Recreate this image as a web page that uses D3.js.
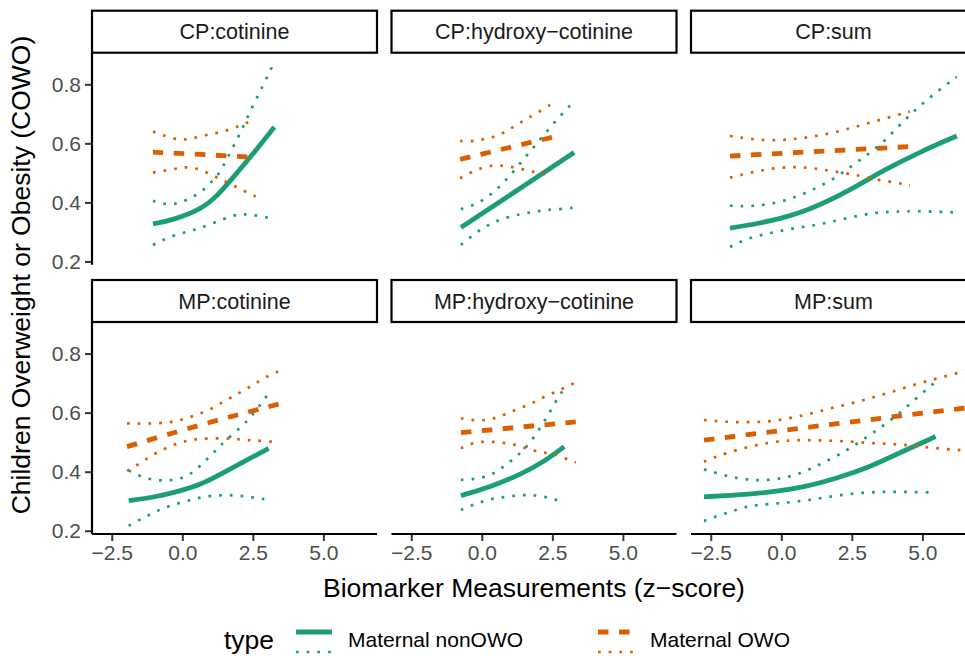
<!DOCTYPE html>
<html>
<head>
<meta charset="utf-8">
<script src="https://cdn.jsdelivr.net/npm/d3@7"></script>
<style>
  body { margin: 0; background: #fff; }
  svg { display: block; font-family: "Liberation Sans", Arial, Helvetica, sans-serif; }
</style>
</head>
<body>
<div id="chart"></div>
<script>
// facet labels, legend and ticks
const panels = ["CP:cotinine", "CP:hydroxy\u2212cotinine", "CP:sum", "MP:cotinine", "MP:hydroxy\u2212cotinine", "MP:sum"];
const types = ["Maternal nonOWO", "Maternal OWO"];
const xTicks = [-2.5, 0, 2.5, 5];
const xTickLabels = ["\u22122.5", "0.0", "2.5", "5.0"];
const yTicks = [0.2, 0.4, 0.6, 0.8];
const yTickLabels = ["0.2", "0.4", "0.6", "0.8"];

// CP:cotinine  ([z-score, probability])
const cpCotNonFit = [[-1.04,0.327],[-0.31,0.341],[0.64,0.375],[1.23,0.420],[1.82,0.487],[2.53,0.567],[3.26,0.655]];
const cpCotNonHi = [[-1.04,0.405],[-0.66,0.395],[-0.31,0.393],[0.05,0.403],[0.40,0.420],[0.73,0.440],[1.0,0.467],[1.29,0.493],[1.59,0.55],[2.0,0.623],[2.41,0.71],[2.88,0.80],[3.26,0.875]];
const cpCotNonLo = [[-1.04,0.256],[-0.31,0.290],[0.40,0.305],[1.11,0.330],[1.83,0.358],[2.18,0.360],[2.53,0.358],[3.26,0.344]];
const cpCotOwoFit = [[-1.04,0.570],[0.64,0.563],[2.6,0.552]];
const cpCotOwoHi = [[-1.04,0.640],[-0.31,0.614],[0.11,0.612],[0.46,0.619],[0.82,0.628],[1.17,0.634],[1.52,0.642],[1.88,0.653],[2.23,0.668],[2.6,0.680]];
const cpCotOwoLo = [[-1.04,0.501],[-0.31,0.512],[0.11,0.521],[0.46,0.516],[0.82,0.504],[1.17,0.487],[1.52,0.471],[1.88,0.454],[2.23,0.437],[2.6,0.420]];

// CP:hydroxy-cotinine
const cpHydNonFit = [[-0.74,0.315],[1.27,0.442],[3.27,0.569]];
const cpHydNonHi = [[-0.74,0.377],[-0.39,0.388],[-0.04,0.403],[0.26,0.422],[0.56,0.447],[0.82,0.472],[1.09,0.501],[1.56,0.555],[2.03,0.609],[2.51,0.665],[3.04,0.719],[3.27,0.743]];
const cpHydNonLo = [[-0.74,0.256],[-0.45,0.279],[-0.15,0.301],[0.18,0.321],[0.50,0.337],[0.85,0.348],[1.21,0.357],[1.58,0.364],[1.98,0.370],[2.33,0.375],[2.74,0.377],[3.27,0.382]];
const cpHydOwoFit = [[-0.77,0.546],[2.51,0.621]];
const cpHydOwoHi = [[-0.77,0.608],[-0.39,0.606],[-0.04,0.612],[0.35,0.619],[0.71,0.632],[1.03,0.651],[1.36,0.670],[1.68,0.688],[2.03,0.707],[2.51,0.735]];
const cpHydOwoLo = [[-0.77,0.482],[-0.39,0.501],[-0.06,0.516],[0.32,0.525],[0.67,0.525],[1.03,0.521],[1.42,0.513],[1.80,0.504],[2.15,0.497],[2.51,0.487]];

// CP:sum
const cpSumNonFit = [[-1.82,0.313],[-0.38,0.335],[1.04,0.375],[2.46,0.442],[3.64,0.510],[4.94,0.572],[6.22,0.625]];
const cpSumNonHi = [[-1.82,0.389],[-1.09,0.386],[-0.32,0.395],[0.43,0.414],[1.10,0.442],[1.81,0.476],[2.46,0.521],[2.99,0.557],[3.58,0.600],[4.11,0.654],[4.65,0.705],[5.23,0.753],[5.83,0.798],[6.22,0.825]];
const cpSumNonLo = [[-1.82,0.249],[-1.09,0.283],[-0.38,0.296],[0.33,0.311],[1.10,0.321],[1.81,0.335],[2.57,0.352],[3.34,0.366],[4.05,0.369],[4.82,0.371],[5.94,0.367],[6.22,0.366]];
const cpSumOwoFit = [[-1.82,0.557],[4.56,0.589]];
const cpSumOwoHi = [[-1.82,0.625],[-1.09,0.614],[-0.32,0.609],[0.45,0.614],[1.18,0.623],[1.93,0.638],[2.67,0.657],[3.40,0.677],[4.11,0.696],[4.56,0.708]];
const cpSumOwoLo = [[-1.82,0.484],[-1.09,0.501],[-0.32,0.516],[0.45,0.521],[1.16,0.516],[1.93,0.504],[2.67,0.493],[3.40,0.476],[4.11,0.467],[4.56,0.457]];

// MP:cotinine
const mpCotNonFit = [[-1.90,0.302],[-1.02,0.313],[-0.19,0.332],[0.64,0.355],[1.46,0.397],[2.29,0.440],[3.06,0.479]];
const mpCotNonHi = [[-1.90,0.404],[-1.55,0.387],[-1.19,0.375],[-0.80,0.370],[-0.45,0.370],[-0.10,0.376],[0.26,0.389],[0.61,0.417],[0.93,0.448],[1.23,0.476],[1.46,0.500],[2.17,0.558],[2.41,0.584],[2.64,0.611],[2.88,0.641],[3.06,0.666]];
const mpCotNonLo = [[-1.90,0.217],[-1.58,0.234],[-1.23,0.251],[-0.90,0.267],[-0.55,0.281],[-0.19,0.292],[0.17,0.301],[0.52,0.310],[0.88,0.317],[1.27,0.320],[1.64,0.321],[2.02,0.319],[2.39,0.314],[2.77,0.309],[3.06,0.305]];
const mpCotOwoFit = [[-1.96,0.485],[0.76,0.563],[3.41,0.629]];
const mpCotOwoHi = [[-1.96,0.564],[-1.16,0.562],[-0.43,0.567],[-0.05,0.575],[0.31,0.586],[0.66,0.598],[0.99,0.611],[1.32,0.629],[1.68,0.649],[2.00,0.666],[2.32,0.683],[2.65,0.702],[2.94,0.720],[3.41,0.740]];
const mpCotOwoLo = [[-1.96,0.403],[-1.58,0.423],[-1.28,0.443],[-0.96,0.462],[-0.60,0.479],[-0.25,0.493],[0.11,0.504],[0.46,0.510],[0.85,0.513],[1.59,0.513],[1.94,0.510],[2.35,0.507],[2.71,0.505],[3.41,0.500]];

// MP:hydroxy-cotinine
const mpHydNonFit = [[-0.74,0.319],[0.32,0.349],[1.38,0.391],[2.21,0.434],[2.92,0.485]];
const mpHydNonHi = [[-0.74,0.372],[-0.37,0.374],[0.02,0.380],[0.38,0.391],[0.70,0.412],[1.00,0.434],[1.30,0.457],[1.56,0.482],[1.80,0.510],[2.01,0.541],[2.21,0.570],[2.41,0.601],[2.59,0.634],[2.80,0.663],[2.92,0.685]];
const mpHydNonLo = [[-0.74,0.270],[-0.39,0.285],[-0.04,0.297],[0.34,0.308],[0.71,0.313],[1.09,0.318],[1.48,0.321],[1.83,0.321],[2.21,0.315],[2.57,0.308],[2.92,0.293]];
const mpHydOwoFit = [[-0.74,0.532],[3.33,0.569]];
const mpHydOwoHi = [[-0.74,0.581],[-0.37,0.575],[0.02,0.573],[0.40,0.579],[0.77,0.592],[1.12,0.606],[1.48,0.620],[1.83,0.634],[2.15,0.651],[2.51,0.666],[2.84,0.680],[3.18,0.696],[3.33,0.702]];
const mpHydOwoLo = [[-0.74,0.479],[-0.37,0.496],[0.0,0.502],[0.38,0.502],[0.77,0.498],[1.15,0.493],[1.50,0.481],[1.88,0.471],[2.21,0.464],[2.57,0.460],[2.94,0.446],[3.33,0.431]];

// MP:sum
const mpSumNonFit = [[-2.74,0.315],[-1.56,0.321],[-0.38,0.330],[0.80,0.347],[1.99,0.378],[3.17,0.417],[4.35,0.471],[5.47,0.519]];
const mpSumNonHi = [[-2.74,0.408],[-1.98,0.386],[-1.23,0.372],[-0.50,0.370],[0.27,0.381],[0.98,0.406],[1.69,0.440],[2.36,0.474],[2.99,0.515],[3.58,0.553],[4.15,0.595],[4.68,0.640],[5.27,0.688],[5.47,0.705]];
const mpSumNonLo = [[-2.74,0.233],[-2.39,0.246],[-1.98,0.259],[-1.62,0.270],[-1.23,0.282],[-0.85,0.287],[-0.12,0.293],[0.62,0.299],[1.37,0.310],[2.10,0.321],[2.87,0.329],[3.62,0.332],[4.35,0.332],[5.12,0.330],[5.47,0.329]];
const mpSumOwoFit = [[-2.74,0.507],[6.6,0.617]];
const mpSumOwoHi = [[-2.74,0.575],[-1.98,0.569],[-1.21,0.567],[-0.44,0.569],[0.27,0.581],[1.04,0.596],[1.75,0.615],[2.52,0.632],[3.23,0.651],[3.94,0.671],[4.68,0.694],[5.41,0.713],[6.12,0.731],[6.6,0.742]];
const mpSumOwoLo = [[-2.74,0.434],[-2.39,0.448],[-1.98,0.462],[-1.23,0.483],[-0.50,0.498],[0.27,0.507],[0.98,0.507],[1.75,0.505],[2.52,0.502],[3.26,0.496],[3.99,0.494],[4.76,0.487],[5.50,0.479],[6.24,0.474],[6.6,0.471]];

// fit / lower / upper per type, one entry per facet
const panelData = [
  [[cpCotNonFit, cpCotNonLo, cpCotNonHi], [cpCotOwoFit, cpCotOwoLo, cpCotOwoHi]],
  [[cpHydNonFit, cpHydNonLo, cpHydNonHi], [cpHydOwoFit, cpHydOwoLo, cpHydOwoHi]],
  [[cpSumNonFit, cpSumNonLo, cpSumNonHi], [cpSumOwoFit, cpSumOwoLo, cpSumOwoHi]],
  [[mpCotNonFit, mpCotNonLo, mpCotNonHi], [mpCotOwoFit, mpCotOwoLo, mpCotOwoHi]],
  [[mpHydNonFit, mpHydNonLo, mpHydNonHi], [mpHydOwoFit, mpHydOwoLo, mpHydOwoHi]],
  [[mpSumNonFit, mpSumNonLo, mpSumNonHi], [mpSumOwoFit, mpSumOwoLo, mpSumOwoHi]]
];

const width = 965;
const height = 656;
const colors = ["#1B9E77", "#D95F02"];
const fitDash = [null, "10.5,10.5"];
const dotDash = "2.7,8";

const panelW = 285, panelH = 212, stripH = 42;
const colLeft = [92, 391.5, 691];
const rowTop = [52.7, 322];

const svg = d3.select("#chart")
    .append("svg")
    .attr("width", width)
    .attr("height", height);

const x = d3.scaleLinear().domain([-3.2, 6.9]).range([0, panelW]);
const y = d3.scaleLinear().domain([0.189, 0.907]).range([panelH, 0]);

// smoothed through the points
const line = d3.line()
    .x(d => x(d[0]))
    .y(d => y(d[1]))
    .curve(d3.curveBasis);

panels.forEach((name, i) => {
    const col = i % 3, row = Math.floor(i / 3);
    const g = svg.append("g")
        .attr("transform", `translate(${colLeft[col]},${rowTop[row]})`);

    // strip
    g.append("rect")
        .attr("x", 0)
        .attr("y", -stripH)
        .attr("width", panelW)
        .attr("height", stripH)
        .attr("fill", "#fff")
        .attr("stroke", "#000")
        .attr("stroke-width", 2.2);
    g.append("text")
        .attr("x", panelW / 2)
        .attr("y", -stripH / 2 + 7.5)
        .attr("text-anchor", "middle")
        .attr("font-size", "21.5px")
        .attr("fill", "#1a1a1a")
        .text(name);

    // fitted lines first, then the interval lines
    panelData[i].forEach((s, t) => {
        g.append("path")
            .attr("d", line(s[0]))
            .attr("fill", "none")
            .attr("stroke", colors[t])
            .attr("stroke-width", 4.8)
            .attr("stroke-dasharray", fitDash[t]);
    });
    panelData[i].forEach((s, t) => {
        [s[1], s[2]].forEach(ci => {
            g.append("path")
                .attr("d", line(ci))
                .attr("fill", "none")
                .attr("stroke", colors[t])
                .attr("stroke-width", 2.7)
                .attr("stroke-dasharray", dotDash);
        });
    });

    // y axis on the first column
    if (col === 0) {
        const ya = g.append("g")
            .call(d3.axisLeft(y).tickValues(yTicks).tickFormat((d, k) => yTickLabels[k]).tickSize(7).tickPadding(4));
        ya.select(".domain").remove();
        ya.selectAll("line").attr("stroke", "#333").attr("stroke-width", 2);
        ya.selectAll("text").attr("font-size", "21px").attr("fill", "#4d4d4d").attr("font-family", null);
        g.append("line")
            .attr("x1", 0).attr("x2", 0)
            .attr("y1", 0).attr("y2", panelH)
            .attr("stroke", "#000").attr("stroke-width", 2.2);
    }
    // x axis on the bottom row
    if (row === 1) {
        const xa = g.append("g")
            .attr("transform", `translate(0,${panelH})`)
            .call(d3.axisBottom(x).tickValues(xTicks).tickFormat((d, k) => xTickLabels[k]).tickSize(7).tickPadding(4));
        xa.select(".domain").remove();
        xa.selectAll("line").attr("stroke", "#333").attr("stroke-width", 2);
        xa.selectAll("text").attr("font-size", "21px").attr("fill", "#4d4d4d").attr("font-family", null);
        g.append("line")
            .attr("x1", 0).attr("x2", panelW)
            .attr("y1", panelH).attr("y2", panelH)
            .attr("stroke", "#000").attr("stroke-width", 2.2);
    }
});

// axis titles
svg.append("text")
    .attr("x", 534)
    .attr("y", 597)
    .attr("text-anchor", "middle")
    .attr("font-size", "26.5px")
    .text("Biomarker Measurements (z\u2212score)");

svg.append("text")
    .attr("transform", "translate(30,275) rotate(-90)")
    .attr("text-anchor", "middle")
    .attr("font-size", "26.5px")
    .text("Children Overweight or Obesity (COWO)");

// legend
const legend = svg.append("g");
legend.append("text")
    .attr("x", 224)
    .attr("y", 649)
    .attr("font-size", "26.5px")
    .text("type");

const keyX = [296, 598];
types.forEach((t, k) => {
    legend.append("line")
        .attr("x1", keyX[k]).attr("x2", keyX[k] + 36)
        .attr("y1", 632).attr("y2", 632)
        .attr("stroke", colors[k])
        .attr("stroke-width", 4.8)
        .attr("stroke-dasharray", fitDash[k]);
    legend.append("line")
        .attr("x1", keyX[k]).attr("x2", keyX[k] + 36)
        .attr("y1", 652).attr("y2", 652)
        .attr("stroke", colors[k])
        .attr("stroke-width", 2.7)
        .attr("stroke-dasharray", dotDash);
    legend.append("text")
        .attr("x", keyX[k] + 52)
        .attr("y", 647)
        .attr("font-size", "21px")
        .text(t);
});
</script>
</body>
</html>
